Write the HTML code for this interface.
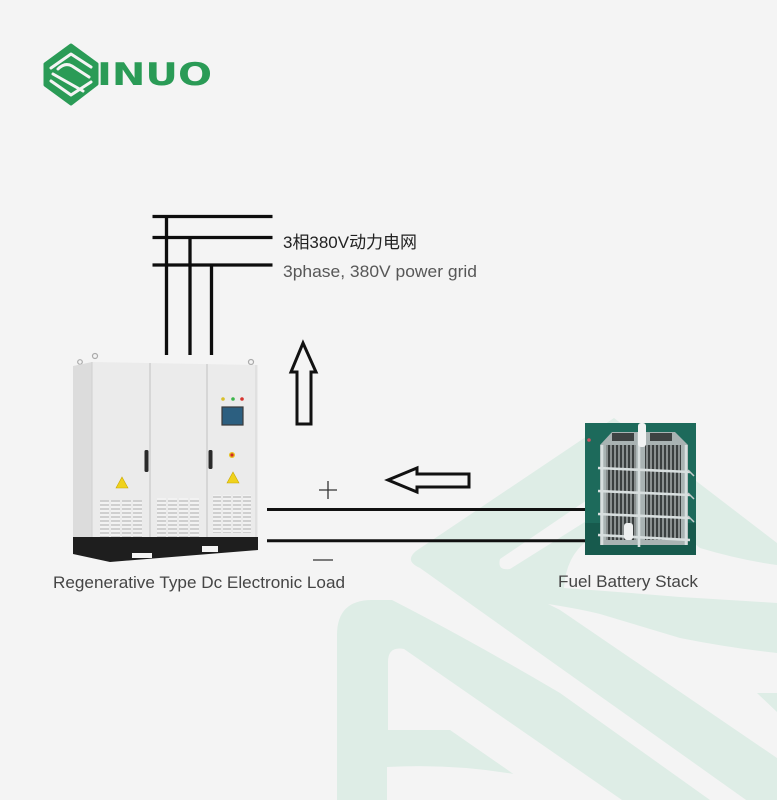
<!DOCTYPE html>
<html>
<head>
<meta charset="utf-8">
<style>
html,body{margin:0;padding:0;background:#f4f4f4;}
svg{display:block;}
</style>
</head>
<body>
<svg width="777" height="800" viewBox="0 0 777 800" xmlns="http://www.w3.org/2000/svg">
<defs>
  <pattern id="slat" width="10" height="4" patternUnits="userSpaceOnUse">
    <rect x="0" y="0" width="10" height="4" fill="#f2f2f2"/>
    <rect x="0" y="0" width="10" height="2" fill="#cfcfcf"/>
  </pattern>
  <pattern id="plates" width="4" height="10" patternUnits="userSpaceOnUse">
    <rect x="0" y="0" width="4" height="10" fill="#8a9090"/>
    <rect x="0" y="0" width="2" height="10" fill="#3a3f3f"/>
  </pattern>
</defs>
<rect width="777" height="800" fill="#f4f4f4"/>

<!-- watermark -->
<g>
  <!-- upper chevron (band 1 + band 0 + band 2 region) -->
  <path d="M416,551 L614,418 L777,543 L777,822 L420,568 Q404,561 416,551 Z" fill="#deede6"/>
  <!-- gap A: narrow stripe up-right from tip -->
  <path d="M500,559 L590,498 L596,515 L510,569 Q497,571 500,559 Z" fill="#f4f4f4"/>
  <!-- gap A: curved part under battery -->
  <path d="M588,540 Q566,556 564,588 Q620,592 680,597 Q730,600 777,603 L777,565 Q740,560 700,548 L690,540 Z" fill="#f4f4f4"/>
  <!-- gap B -->
  <path d="M548,604 Q580,609 600,614 Q640,626 680,638 Q730,648 777,653 L777,758 L560,610 Z" fill="#f4f4f4"/>
  <path d="M757,693 L777,693 L777,712 Z" fill="#deede6"/>
  <!-- lower shape -->
  <path d="M337,800 L337,635 Q337,600 372,600 L392,600 Q470,640 560,693 L710,800 Z" fill="#deede6"/>
  <path d="M388,662 Q388,646 404,649 L622,800 L551,800 L450,730 L388,730 Z" fill="#f4f4f4"/>
  <path d="M387,767 Q460,763 530,777 Q560,786 580,800 L387,800 Z" fill="#f4f4f4"/>
</g>

<!-- logo -->
<g>
  <path d="M71,45 L97,64 L97,84 L71,104 L45,85 L45,64 Z" fill="#2a9b56" stroke="#2a9b56" stroke-width="3" stroke-linejoin="round"/>
  <g fill="none" stroke="#f4f4f4" stroke-width="3" stroke-linecap="round" stroke-linejoin="round">
    <path d="M51,68 L71,54 L91,67"/>
    <path d="M58,69 Q65,62 72,66 L89,77"/>
    <path d="M53,74 L83,91"/>
    <path d="M51,81 L71,95 L91,82"/>
  </g>
  <text x="97" y="85" font-family="'DejaVu Sans','Liberation Sans',sans-serif" font-weight="bold" font-size="31.5" fill="#2a9b56" textLength="115" lengthAdjust="spacingAndGlyphs">INUO</text>
</g>

<!-- 3-phase grid lines -->
<g stroke="#0d0d0d" stroke-width="3.3">
  <line x1="152.5" y1="216.5" x2="272.5" y2="216.5"/>
  <line x1="152.5" y1="237.5" x2="272.5" y2="237.5"/>
  <line x1="152.5" y1="265" x2="272.5" y2="265"/>
  <line x1="166.5" y1="216.5" x2="166.5" y2="355"/>
  <line x1="190" y1="237.5" x2="190" y2="355"/>
  <line x1="211.5" y1="265" x2="211.5" y2="355"/>
</g>
<text x="283" y="248" font-family="'Liberation Sans','Noto Sans CJK SC',sans-serif" font-size="17" fill="#222" textLength="134" lengthAdjust="spacingAndGlyphs">3相380V动力电网</text>
<text x="283" y="277" font-family="'Liberation Sans',sans-serif" font-size="17" fill="#575757" textLength="194" lengthAdjust="spacingAndGlyphs">3phase, 380V power grid</text>

<!-- up arrow -->
<path d="M303,343 L316,372 L311,372 L311,424 L297,424 L297,372 L291,372 Z" fill="#f4f4f4" stroke="#111" stroke-width="3" stroke-linejoin="miter"/>

<!-- left arrow -->
<path d="M388,480 L417,468 L417,474 L469,474 L469,487 L417,487 L417,492 Z" fill="#f4f4f4" stroke="#111" stroke-width="3"/>

<!-- DC lines -->
<g stroke="#111" stroke-width="3">
  <line x1="267" y1="509.5" x2="586" y2="509.5"/>
  <line x1="267" y1="540.7" x2="586" y2="540.7"/>
</g>
<g stroke="#333" stroke-width="1.3">
  <line x1="319" y1="490" x2="337" y2="490"/>
  <line x1="328" y1="481" x2="328" y2="499"/>
  <line x1="313" y1="560" x2="333" y2="560"/>
</g>

<!-- cabinet -->
<g>
  <circle cx="95" cy="356" r="2.5" fill="none" stroke="#aaa" stroke-width="1.2"/>
  <circle cx="80" cy="362" r="2.3" fill="none" stroke="#aaa" stroke-width="1.2"/>
  <circle cx="251" cy="362" r="2.5" fill="none" stroke="#aaa" stroke-width="1.2"/>
  <polygon points="73,366 92,362 92,540 73,545" fill="#dcdcdc"/>
  <polygon points="92,362 258,365 258,537 92,540" fill="#ebebeb"/>
  <line x1="92" y1="362" x2="92" y2="540" stroke="#cfcfcf" stroke-width="1"/>
  <line x1="150" y1="363" x2="150" y2="539" stroke="#c9c9c9" stroke-width="1.2"/>
  <line x1="207" y1="364" x2="207" y2="538" stroke="#c9c9c9" stroke-width="1.2"/>
  <line x1="256" y1="365" x2="256" y2="537" stroke="#d6d6d6" stroke-width="1"/>
  <g fill="url(#slat)">
    <rect x="100" y="500" width="9" height="40"/>
    <rect x="111" y="500" width="9" height="40"/>
    <rect x="122" y="500" width="9" height="40"/>
    <rect x="133" y="500" width="9" height="40"/>
    <rect x="157" y="498" width="9" height="40"/>
    <rect x="168" y="498" width="9" height="40"/>
    <rect x="179" y="498" width="9" height="40"/>
    <rect x="190" y="498" width="9" height="40"/>
    <rect x="213" y="495" width="8" height="38"/>
    <rect x="223" y="495" width="8" height="38"/>
    <rect x="233" y="495" width="8" height="38"/>
    <rect x="243" y="495" width="8" height="38"/>
  </g>
  <rect x="144.5" y="450" width="4" height="22" rx="1.5" fill="#2a2a2a"/>
  <rect x="208.5" y="450" width="4" height="19" rx="1.5" fill="#2a2a2a"/>
  <circle cx="223" cy="399" r="1.8" fill="#d9c02a"/>
  <circle cx="233" cy="399" r="1.8" fill="#3bb54a"/>
  <circle cx="242" cy="399" r="1.8" fill="#d6332d"/>
  <rect x="222" y="407" width="21" height="18" fill="#2c5f80" stroke="#3a3a3a" stroke-width="1.2"/>
  <circle cx="232" cy="455" r="3" fill="#e8c21e"/>
  <circle cx="232" cy="455" r="1.6" fill="#d12a24"/>
  <polygon points="122,477 128,488 116,488" fill="#f0d21c" stroke="#c9a800" stroke-width="0.6"/>
  <polygon points="233,472 239,483 227,483" fill="#f0d21c" stroke="#c9a800" stroke-width="0.6"/>
  <polygon points="73,537 258,537 258,550 110,562 73,554" fill="#1e1e1e"/>
  <rect x="132" y="553" width="20" height="5" fill="#f4f4f4"/>
  <rect x="202" y="546" width="16" height="6" fill="#f4f4f4"/>
</g>
<text x="53" y="588" font-family="'Liberation Sans',sans-serif" font-size="17" fill="#454545" textLength="292" lengthAdjust="spacingAndGlyphs">Regenerative Type Dc Electronic Load</text>

<!-- fuel cell stack image -->
<g>
  <rect x="585" y="423" width="111" height="132" fill="#1d6a5b"/>
  <rect x="585" y="523" width="111" height="32" fill="#175a4d"/>
  <polygon points="600,445 612,432 640,432 640,545 600,545" fill="#a9b3b3"/>
  <polygon points="640,432 675,432 688,445 688,545 640,545" fill="#a9b3b3"/>
  <rect x="606" y="445" width="30" height="95" fill="url(#plates)"/>
  <rect x="645" y="445" width="36" height="95" fill="url(#plates)"/>
  <g fill="#3d4242">
    <rect x="612" y="433" width="22" height="8"/>
    <rect x="650" y="433" width="22" height="8"/>
  </g>
  <g stroke="#d8dfdf" stroke-width="2.6" fill="none">
    <line x1="598" y1="468" x2="690" y2="472"/>
    <line x1="598" y1="491" x2="690" y2="495"/>
    <line x1="598" y1="514" x2="690" y2="518"/>
    <line x1="598" y1="535" x2="690" y2="540"/>
    <line x1="602" y1="445" x2="602" y2="545"/>
    <line x1="639" y1="432" x2="639" y2="547"/>
    <line x1="686" y1="445" x2="686" y2="545"/>
  </g>
  <g stroke="#c5cccc" stroke-width="1.5">
    <line x1="688" y1="470" x2="694" y2="476"/>
    <line x1="688" y1="493" x2="694" y2="499"/>
    <line x1="688" y1="516" x2="694" y2="522"/>
  </g>
  <rect x="638" y="423" width="8" height="24" rx="3" fill="#f1f3f3"/>
  <rect x="624" y="523" width="9" height="17" rx="3" fill="#eef0f0"/>
  <circle cx="589" cy="440" r="1.8" fill="#d05060"/>
</g>
<text x="558" y="587" font-family="'Liberation Sans',sans-serif" font-size="17" fill="#454545" textLength="140" lengthAdjust="spacingAndGlyphs">Fuel Battery Stack</text>
</svg>
</body>
</html>
